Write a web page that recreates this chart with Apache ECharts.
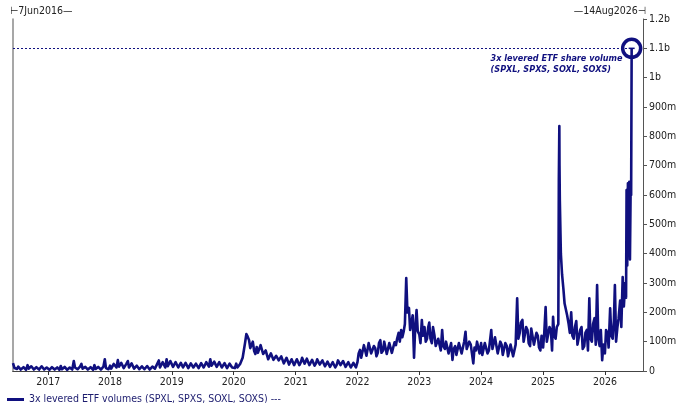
<!DOCTYPE html>
<html>
<head>
<meta charset="utf-8">
<script src="https://cdn.jsdelivr.net/npm/echarts@6/dist/echarts.min.js"></script>
<style>
  html, body { margin: 0; padding: 0; background: #fff; }
  #chart { width: 680px; height: 403px; }
</style>
</head>
<body>
<div id="chart"></div>
<script>
// ---- Data (millions of shares) ----
// readings on the 1st and 16th of each month
const vol2016 = [10, 7, 14, 6, 12, 20, 9, 14, 7, 16, 10, 15, 8]; // from 16 Jun
const vol2017 = [10, 5, 12, 6, 9, 17, 8, 12, 5, 10, 34, 14, 8, 24, 9, 12, 6, 10, 20, 8, 12, 7, 40, 14];
const vol2018 = [18, 10, 26, 37, 14, 30, 12, 34, 16, 22, 8, 18, 7, 15, 9, 16, 8, 20, 14, 36, 18, 28, 40, 22];
const vol2019 = [36, 20, 28, 14, 33, 18, 30, 12, 22, 10, 24, 14, 26, 16, 32, 40, 20, 34, 16, 28, 14, 26, 12, 24];
const vol2020 = [18, 25, 14, 30, 70, 126, 105, 90, 68, 82, 60, 85, 52, 64, 45, 56, 40, 58, 32, 46, 28, 42, 24, 38];
const vol2021 = [24, 38, 30, 50, 28, 40, 22, 36, 26, 45, 20, 34, 18, 30, 16, 28, 22, 40, 18, 30, 15, 26, 14, 24];
const vol2022 = [30, 72, 50, 85, 58, 92, 55, 78, 62, 105, 70, 95, 60, 100, 65, 88, 130, 140, 135, 317, 215, 165, 45, 208];
const vol2023 = [125, 174, 150, 110, 165, 95, 120, 80, 105, 140, 75, 100, 60, 38, 85, 55, 95, 65, 134, 80, 90, 26, 70, 95];
const vol2024 = [95, 60, 100, 70, 140, 80, 110, 55, 90, 50, 85, 45, 95, 55, 248, 130, 174, 105, 140, 85, 150, 95, 120, 70];
const vol2025 = [80, 218, 100, 140, 185, 110, 160, 400, 280, 230, 160, 200, 110, 170, 95, 150, 85, 140, 248, 100, 180, 293, 85, 37];
const vol2026 = [60, 130, 214, 110, 293, 150, 240, 320, 300]; // to 1 May

// readings on the 8th and 23rd of each month
const mid2016 = [5, 15, 5, 13, 4, 8, 16, 5, 13, 5, 16, 5, 12]; // from 23 Jun
const mid2017 = [4, 13, 5, 12, 4, 6, 14, 4, 12, 5, 12, 6, 15, 8, 14, 5, 13, 4, 7, 14, 5, 15, 10, 6];
const mid2018 = [8, 24, 12, 15, 28, 10, 25, 12, 26, 8, 18, 6, 16, 6, 17, 5, 15, 8, 26, 12, 30, 12, 16, 34];
const mid2019 = [14, 30, 12, 28, 12, 28, 10, 26, 12, 25, 10, 27, 12, 30, 15, 18, 32, 14, 30, 12, 27, 10, 25, 12];
const mid2020 = [10, 12, 24, 45, 95, 118, 78, 100, 58, 62, 88, 58, 70, 40, 60, 38, 52, 36, 50, 26, 45, 22, 40, 20];
const mid2021 = [40, 20, 45, 25, 42, 20, 38, 18, 40, 22, 36, 16, 32, 14, 30, 12, 36, 20, 34, 14, 30, 12, 28, 12];
const mid2022 = [60, 45, 88, 52, 95, 60, 85, 50, 95, 62, 100, 58, 95, 62, 98, 110, 100, 115, 160, 200, 140, 190, 150, 135];
const mid2023 = [95, 120, 100, 150, 110, 150, 85, 110, 70, 85, 100, 60, 95, 75, 55, 95, 60, 100, 75, 100, 60, 80, 100, 60];
const mid2024 = [55, 95, 60, 105, 75, 115, 60, 100, 55, 95, 50, 90, 50, 90, 110, 165, 100, 150, 95, 145, 90, 130, 80, 120];
const mid2025 = [130, 100, 150, 70, 120, 150, 700, 330, 230, 190, 130, 120, 150, 90, 140, 75, 130, 70, 110, 160, 90, 110, 140, 90];
const mid2026 = [140, 80, 120, 170, 100, 180, 150, 220]; // to 23 Apr

// individual sessions
const eventDates  = ['2016-06-07', '2025-04-04', '2025-04-07', '2025-04-10',
                     '2026-05-06', '2026-05-09', '2026-05-13', '2026-05-17', '2026-05-21',
                     '2026-05-25', '2026-05-29', '2026-06-02', '2026-06-05', '2026-06-08'];
const eventValues = [27, 650, 835, 580,
                     250, 617, 360, 640, 420,
                     645, 380, 620, 600, 1100];

const yTicks = [0, 100, 200, 300, 400, 500, 600, 700, 800, 900, 1000, 1100, 1200];
const yTickLabels = ['0', '100m', '200m', '300m', '400m', '500m', '600m', '700m', '800m', '900m', '1b', '1.1b', '1.2b'];

const axisStart = '2016-06-07';
const axisEnd = '2026-08-14';
const startLabel = '7Jun2016';
const endLabel = '14Aug2026';
const seriesName = '3x levered ETF volumes (SPXL, SPXS, SOXL, SOXS)';
const noteText = '3x levered ETF share volume\n(SPXL, SPXS, SOXL, SOXS)';
const refLevel = 1100;

// ---- build points ----
function ts(s) { const p = s.split('-').map(Number); return Date.UTC(p[0], p[1] - 1, p[2]); }
const points = [];
function addYear(year, startHalf, values, days) {
  values.forEach((v, i) => {
    const k = startHalf + i;
    const m = Math.floor(k / 2);
    const d = days[k % 2];
    points.push([Date.UTC(year, m, d), v]);
  });
}
const GRID = [1, 16], MID = [8, 23];
[[2016, 11, vol2016], [2017, 0, vol2017], [2018, 0, vol2018], [2019, 0, vol2019],
 [2020, 0, vol2020], [2021, 0, vol2021], [2022, 0, vol2022], [2023, 0, vol2023],
 [2024, 0, vol2024], [2025, 0, vol2025], [2026, 0, vol2026]]
  .forEach(r => addYear(r[0], r[1], r[2], GRID));
[[2016, 11, mid2016], [2017, 0, mid2017], [2018, 0, mid2018], [2019, 0, mid2019],
 [2020, 0, mid2020], [2021, 0, mid2021], [2022, 0, mid2022], [2023, 0, mid2023],
 [2024, 0, mid2024], [2025, 0, mid2025], [2026, 0, mid2026]]
  .forEach(r => addYear(r[0], r[1], r[2], MID));
eventDates.forEach((d, i) => points.push([ts(d), eventValues[i]]));
points.sort((a, b) => a[0] - b[0]);
const last = points[points.length - 1];

const NAVY = '#10107f';
const FONT = "Tahoma, 'DejaVu Sans Condensed', 'DejaVu Sans', sans-serif";
const DAY = 86400000;

const chart = echarts.init(document.getElementById('chart'), null, { renderer: 'canvas' });
chart.setOption({
  animation: false,
  backgroundColor: '#ffffff',
  textStyle: { fontFamily: FONT },
  grid: { left: 13, right: 37, top: 19, bottom: 32 },
  legend: {
    left: 2, top: 389,
    icon: 'rect', itemWidth: 17, itemHeight: 3, itemGap: 6,
    formatter: n => n + ' ---',
    textStyle: { color: '#1c1c6e', fontSize: 10.5, fontFamily: FONT },
    data: [seriesName]
  },
  xAxis: [{
    type: 'time', min: ts(axisStart), max: ts(axisEnd),
    minInterval: 365 * DAY, maxInterval: 366 * DAY,
    axisLine: { lineStyle: { color: '#333', width: 1 } },
    axisTick: { show: true, length: 4, lineStyle: { color: '#333' } },
    axisLabel: { formatter: '{yyyy}', color: '#222', fontSize: 10.5, margin: 6,
                 showMinLabel: false, showMaxLabel: false, hideOverlap: false },
    splitLine: { show: false }
  }, {
    type: 'time', position: 'top', min: ts(axisStart), max: ts(axisEnd),
    axisLine: { show: true, lineStyle: { color: '#444', width: 1 } },
    axisTick: { show: false }, axisLabel: { show: false }, splitLine: { show: false }
  }],
  yAxis: [{
    type: 'value', position: 'right', min: 0, max: 1200, interval: 100,
    axisLine: { show: true, lineStyle: { color: '#555' } },
    axisTick: { show: true, length: 4, lineStyle: { color: '#555' } },
    axisLabel: { color: '#222', fontSize: 10.5, margin: 6,
                 formatter: v => yTickLabels[yTicks.indexOf(v)] },
    splitLine: { show: false }
  }, {
    type: 'value', position: 'left', min: 0, max: 1200,
    axisLine: { show: true, lineStyle: { color: '#8a8a8a', width: 1.5 } },
    axisTick: { show: false }, axisLabel: { show: false }, splitLine: { show: false }
  }],
  graphic: [
    { type: 'text', left: 10, top: 6,
      style: { text: '\u22A2' + startLabel + '\u2014', fill: '#222', font: '10.5px ' + FONT } },
    { type: 'text', right: 34, top: 6,
      style: { text: '\u2014' + endLabel + '\u22A3', fill: '#222', font: '10.5px ' + FONT } }
  ],
  series: [{
    name: seriesName,
    type: 'line',
    data: points,
    showSymbol: false,
    symbol: 'none',
    lineStyle: { color: NAVY, width: 2.6, join: 'round' },
    itemStyle: { color: NAVY },
    markLine: {
      silent: true, symbol: 'none',
      lineStyle: { color: NAVY, type: [2, 2], width: 1 },
      label: { show: false },
      data: [[{ coord: [ts(axisStart), refLevel] }, { coord: [last[0], refLevel] }]]
    },
    markPoint: {
      silent: true,
      data: [
        { coord: last, symbol: 'circle', symbolSize: 18,
          itemStyle: { color: 'rgba(0,0,0,0)', borderColor: NAVY, borderWidth: 3.5 },
          label: { show: false } },
        { coord: last, symbol: 'rect', symbolSize: [6, 1.5],
          itemStyle: { color: NAVY }, label: { show: false } },
        { coord: last, symbol: 'circle', symbolSize: 0.1,
          itemStyle: { color: 'rgba(0,0,0,0)' },
          label: { show: true, formatter: noteText, position: [-141, 5],
                   align: 'left', verticalAlign: 'top', lineHeight: 11,
                   color: NAVY, fontSize: 9, fontStyle: 'italic', fontWeight: 'bold',
                   fontFamily: FONT } }
      ]
    }
  }]
});
</script>
</body>
</html>
